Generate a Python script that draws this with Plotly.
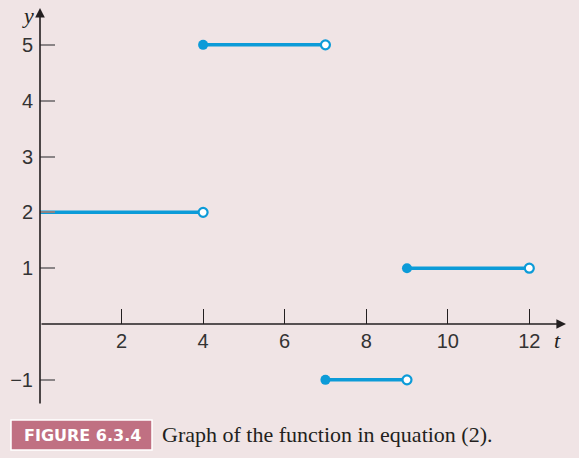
import plotly.graph_objects as go

# piecewise-constant segments: [start, end), value
seg_start = [0, 4, 7, 9]
seg_end = [4, 7, 9, 12]
seg_value = [2, 5, -1, 1]
closed_start = [False, True, True, True]

x_ticks = [2, 4, 6, 8, 10, 12]
y_ticks = [-1, 1, 2, 3, 4, 5]

BG = "#F0E4E5"
BLUE = "#0C9BD8"
DARK = "#231F20"

XR = [0, 12.9]
YR = [-1.45, 5.66]

fig = go.Figure()

for s, e, v, c in zip(seg_start, seg_end, seg_value, closed_start):
    fig.add_trace(go.Scatter(x=[s, e], y=[v, v], mode="lines",
                             line=dict(color=BLUE, width=3.5),
                             hoverinfo="skip", showlegend=False))
    if c:
        fig.add_trace(go.Scatter(x=[s], y=[v], mode="markers",
                                 marker=dict(color=BLUE, size=10, line=dict(width=0)),
                                 showlegend=False))
    fig.add_trace(go.Scatter(x=[e], y=[v], mode="markers",
                             marker=dict(color="white", size=9,
                                         line=dict(color=BLUE, width=2.2)),
                             showlegend=False))

fig.update_layout(
    width=579, height=458,
    paper_bgcolor=BG, plot_bgcolor=BG,
    margin=dict(l=40, r=13, t=8, b=53, autoexpand=False),
    font=dict(family="Liberation Sans, Arial, sans-serif", size=20, color=DARK),
    xaxis=dict(range=XR, showgrid=False, zeroline=False, showline=False,
               automargin=False,
               tickmode="array", tickvals=x_ticks,
               ticktext=[str(v) for v in x_ticks],
               ticks="inside", ticklen=15, tickwidth=1.3, tickcolor=DARK,
               anchor="free", position=(0 - YR[0]) / (YR[1] - YR[0]),
               tickfont=dict(size=20, color="#333"), ticklabelstandoff=3),
    yaxis=dict(range=YR, showgrid=False, zeroline=False, showline=False,
               automargin=False,
               tickmode="array", tickvals=y_ticks,
               ticktext=["\u2212" + str(-v) if v < 0 else str(v) for v in y_ticks],
               ticks="inside", ticklen=15, tickwidth=1.5, tickcolor="#8a8486",
               tickfont=dict(size=20, color="#333"), ticklabelstandoff=6),
)

# axes with arrowheads
fig.add_annotation(x=XR[1], y=0, ax=0, ay=0, xref="x", yref="y", axref="x", ayref="y",
                   showarrow=True, arrowhead=2, arrowsize=1.2, arrowwidth=1.6,
                   arrowcolor=DARK, text="")
fig.add_annotation(x=0, y=YR[1], ax=0, ay=YR[0], xref="x", yref="y", axref="x", ayref="y",
                   showarrow=True, arrowhead=2, arrowsize=1.2, arrowwidth=1.6,
                   arrowcolor=DARK, text="")

# axis labels
fig.add_annotation(x=12.55, y=-0.3, xref="x", yref="y", text="<i>t</i>", showarrow=False,
                   font=dict(family="Liberation Serif, Times New Roman, serif", size=22, color=DARK),
                   xanchor="left", yanchor="middle")
fig.add_annotation(x=(36 - 40) / 526, y=(405 - 16) / 397, xref="paper", yref="paper",
                   text="<i>y</i>", showarrow=False,
                   font=dict(family="Liberation Serif, Times New Roman, serif", size=22, color=DARK),
                   xanchor="right", yanchor="middle")

# caption
fig.add_shape(type="rect", xref="paper", yref="paper",
              x0=(11 - 40) / 526, x1=(152 - 40) / 526,
              y0=(405 - 450) / 397, y1=(405 - 420) / 397,
              fillcolor="#C07082", line=dict(color="white", width=1.5))
fig.add_annotation(xref="paper", yref="paper", x=(82 - 40) / 526, y=(405 - 435.5) / 397,
                   text="<b>FIGURE 6.3.4</b>",
                   showarrow=False, xanchor="center", yanchor="middle",
                   font=dict(family="DejaVu Sans, sans-serif", size=16, color="white"))
fig.add_annotation(xref="paper", yref="paper", x=(160 - 40) / 526, y=(405 - 435) / 397,
                   text="Graph of the function in equation (2).",
                   showarrow=False, xanchor="left", yanchor="middle",
                   font=dict(family="Liberation Serif, Times New Roman, serif", size=22, color=DARK))

fig.write_html("out.html", config={"displayModeBar": False},
               post_script="document.body.style.margin='0';")
